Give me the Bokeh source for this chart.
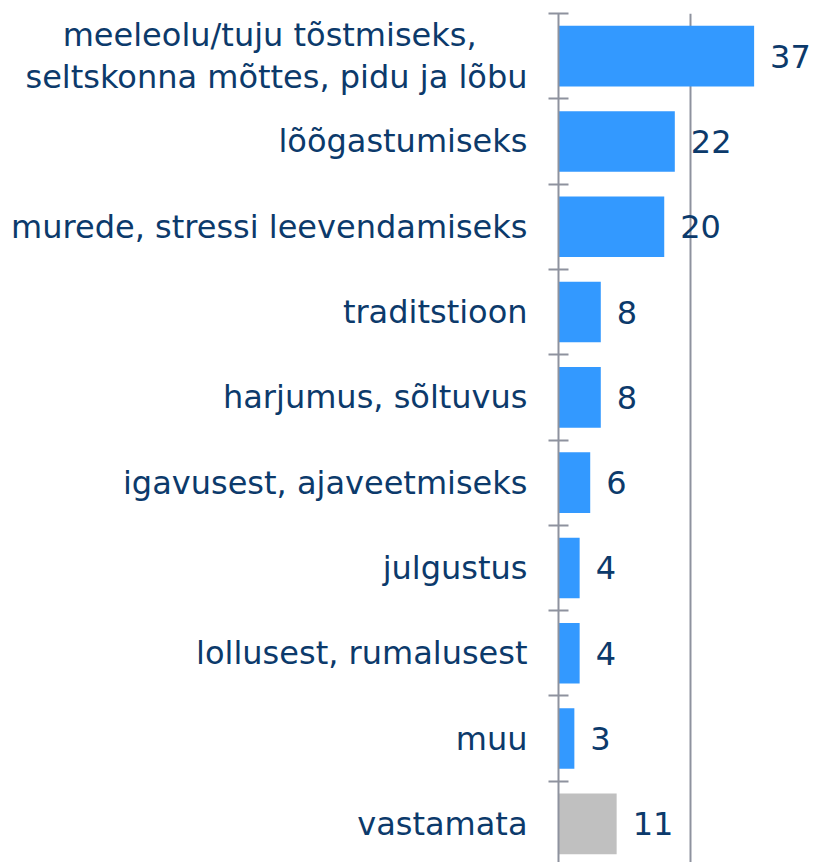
from bokeh.plotting import figure
from bokeh.models import Range1d, FixedTicker, ColumnDataSource
from bokeh.core.properties import value
from bokeh.embed import file_html
from bokeh.resources import INLINE

NB = "\u00a0"
categories = [
    "meeleolu/tuju tõstmiseks," + NB * 5 + "\nseltskonna mõttes, pidu ja lõbu",
    "lõõgastumiseks",
    "murede, stressi leevendamiseks",
    "traditstioon",
    "harjumus, sõltuvus",
    "igavusest, ajaveetmiseks",
    "julgustus",
    "lollusest, rumalusest",
    "muu",
    "vastamata",
]
values = [37, 22, 20, 8, 8, 6, 4, 4, 3, 11]

FONT = "DejaVu Sans"
TEXT_COLOR = "#0c3a6b"
AXIS_COLOR = "#8e929e"
BLUE = "#3399ff"
GREY = "#c0c0c0"

idx = list(range(len(categories)))
colors = [GREY if c == "vastamata" else BLUE for c in categories]
src = ColumnDataSource(dict(y=idx, v=values, c=colors,
                            t=[str(v) for v in values]))

p = figure(width=814, height=862, output_backend="svg", toolbar_location=None,
           x_range=Range1d(0, 48.42), y_range=Range1d(9.453, -0.5),
           min_border_left=558, min_border_top=13, min_border_bottom=0,
           min_border_right=0, outline_line_color=None)

p.hbar(y="y", right="v", left=0, height=0.71, fill_color="c",
       line_color=None, source=src)
p.text(x="v", y="y", text="t", source=src, x_offset=16,
       text_align="left", text_baseline="middle",
       text_font=value(FONT), text_font_size="32px", text_color=TEXT_COLOR)

p.xaxis.visible = False
p.ygrid.visible = False
p.xgrid.ticker = FixedTicker(ticks=[25, 50])
p.xgrid.grid_line_color = AXIS_COLOR
p.xgrid.grid_line_width = 2

ax = p.yaxis[0]
ax.ticker = FixedTicker(ticks=idx, minor_ticks=[i - 0.5 for i in idx] + [len(idx) - 0.5])
ax.major_label_overrides = {i: c for i, c in zip(idx, categories)}
ax.major_tick_in = 0
ax.major_tick_out = 0
ax.minor_tick_in = 10
ax.minor_tick_out = 10
ax.minor_tick_line_color = AXIS_COLOR
ax.minor_tick_line_width = 2
ax.axis_line_color = AXIS_COLOR
ax.axis_line_width = 2
ax.major_label_standoff = 21
ax.major_label_text_font = FONT
ax.major_label_text_font_size = "32px"
ax.major_label_text_color = TEXT_COLOR
ax.major_label_text_line_height = 1.1

open("out.html", "w").write(file_html(p, INLINE))
